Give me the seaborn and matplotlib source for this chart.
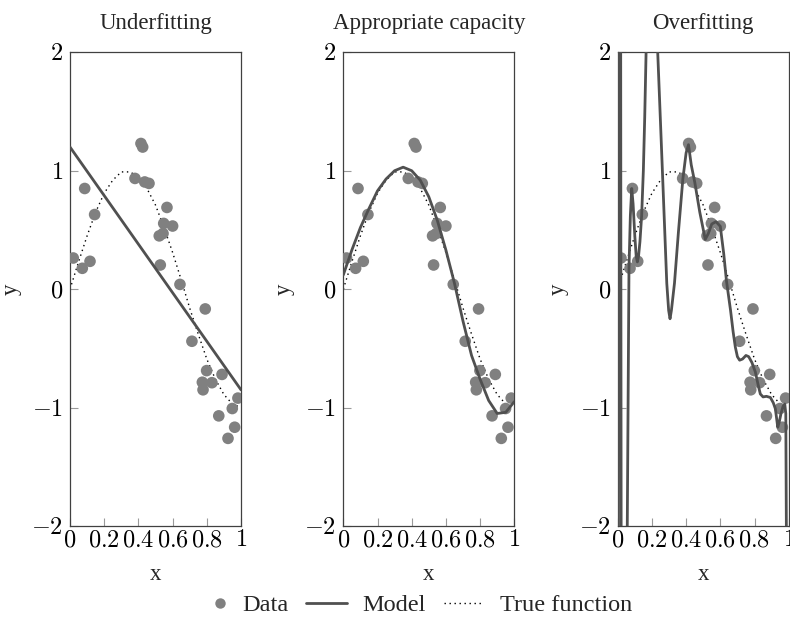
import numpy as np
import pandas as pd
import matplotlib
matplotlib.use("Agg")
import matplotlib.pyplot as plt
from matplotlib.lines import Line2D
from matplotlib.legend_handler import HandlerLine2D
import seaborn as sns

# ---------------- data ----------------
data_x = [0.019, 0.072, 0.086, 0.117, 0.144, 0.380, 0.415, 0.425, 0.437, 0.462,
          0.522, 0.528, 0.544, 0.548, 0.567, 0.600, 0.643, 0.713, 0.774, 0.778,
          0.791, 0.799, 0.830, 0.870, 0.889, 0.924, 0.949, 0.963, 0.982]
data_y = [0.263, 0.176, 0.850, 0.235, 0.630, 0.935, 1.230, 1.200, 0.905, 0.893,
          0.450, 0.204, 0.470, 0.555, 0.690, 0.533, 0.040, -0.440, -0.786, -0.850,
          -0.167, -0.688, -0.790, -1.070, -0.720, -1.260, -1.008, -1.166, -0.920]

true_x = [0.00, 0.05, 0.10, 0.15, 0.20, 0.25, 0.30, 0.35, 0.40, 0.45, 0.50,
          0.55, 0.60, 0.65, 0.70, 0.75, 0.80, 0.85, 0.90, 0.95, 1.00]
true_y = [0.00, 0.23, 0.45, 0.65, 0.81, 0.92, 0.99, 0.99, 0.95, 0.85, 0.71,
          0.52, 0.31, 0.08, -0.16, -0.38, -0.59, -0.76, -0.89, -0.97, -1.00]

under_x = [0.0, 1.0]
under_y = [1.20, -0.85]

good_x = [0.00, 0.05, 0.10, 0.15, 0.20, 0.25, 0.30, 0.35, 0.40, 0.45, 0.50,
          0.55, 0.60, 0.65, 0.70, 0.75, 0.80, 0.85, 0.90, 0.95, 1.00]
good_y = [0.12, 0.33, 0.52, 0.68, 0.83, 0.93, 1.00, 1.03, 1.00, 0.92, 0.78,
          0.58, 0.33, 0.05, -0.27, -0.56, -0.76, -0.94, -1.05, -1.04, -0.95]

over_x = [0.000, 0.004, 0.008, 0.012, 0.0185, 0.026, 0.040, 0.052, 0.056, 0.066,
          0.074, 0.082, 0.090, 0.100, 0.108, 0.115, 0.122, 0.130, 0.140, 0.150,
          0.158, 0.166, 0.180, 0.200, 0.218, 0.234, 0.260, 0.287, 0.298, 0.306,
          0.314, 0.332, 0.355, 0.381, 0.400, 0.414, 0.430, 0.451, 0.480, 0.512,
          0.530, 0.550, 0.575, 0.600, 0.620, 0.636, 0.660, 0.675, 0.688, 0.700,
          0.713, 0.730, 0.750, 0.766, 0.785, 0.805, 0.820, 0.834, 0.850, 0.870,
          0.893, 0.910, 0.922, 0.936, 0.945, 0.955, 0.967, 0.977, 0.983, 0.987,
          0.992, 1.000]
over_y = [-10.0, 0.0, 10.0, 12.0, 0.26, -10.0, -15.0, -6.0, -2.0, 0.18,
          0.62, 0.85, 0.72, 0.45, 0.28, 0.23, 0.28, 0.40, 0.62, 1.00,
          1.45, 2.00, 3.00, 3.40, 3.00, 2.00, 1.05, 0.05, -0.18, -0.25,
          -0.18, 0.05, 0.48, 0.93, 1.15, 1.22, 1.05, 0.90, 0.65, 0.42,
          0.47, 0.55, 0.57, 0.53, 0.30, 0.07, -0.18, -0.36, -0.49, -0.57,
          -0.60, -0.59, -0.56, -0.57, -0.62, -0.70, -0.80, -0.885, -0.91, -0.905,
          -0.915, -0.96, -1.01, -1.166, -1.12, -1.05, -0.99, -0.97, -1.05, -2.2,
          -5.0, -10.0]

titles = ["Underfitting", "Appropriate capacity", "Overfitting"]
xticks = [0, 0.2, 0.4, 0.6, 0.8, 1]
xtick_labels = ["$0$", "$0.2$", "$0.4$", "$0.6$", "$0.8$", "$1$"]
yticks = [-2, -1, 0, 1, 2]
ytick_labels = ["$-2$", "$-1$", "$0$", "$1$", "$2$"]
legend_labels = ["Data", "Model", "True function"]

# ---------------- style ----------------
sns.set_theme(style="white")
plt.rcParams["font.family"] = ["Liberation Serif", "DejaVu Serif"]
plt.rcParams["mathtext.fontset"] = "cm"

POINT_C = "#808080"
LINE_C = "#505050"
SPINE_C = "#404040"

fig = plt.figure(figsize=(7.9, 6.22), dpi=100)
lefts = [70 / 790, 343.3 / 790, 617.7 / 790]
bottom = (622 - 526) / 622
height = (526 - 52.3) / 622
width = 171 / 790

df_pts = pd.DataFrame({"x": data_x, "y": data_y})
df_true = pd.DataFrame({"x": true_x, "y": true_y})
models = [pd.DataFrame({"x": under_x, "y": under_y}),
          pd.DataFrame({"x": good_x, "y": good_y}),
          pd.DataFrame({"x": over_x, "y": over_y})]

for i in range(3):
    ax = fig.add_axes([lefts[i], bottom, width, height])
    sns.lineplot(data=df_true, x="x", y="y", ax=ax, color="black", lw=1.0,
                 linestyle=(0, (1, 2.6)), sort=False, zorder=2)
    sns.scatterplot(data=df_pts, x="x", y="y", ax=ax, color=POINT_C, s=70,
                    edgecolor="none", zorder=3)
    sns.lineplot(data=models[i], x="x", y="y", ax=ax, color=LINE_C, lw=2.0,
                 sort=False, zorder=4)
    ax.set_xlim(0, 1)
    ax.set_ylim(-2, 2)
    ax.set_xticks(xticks)
    ax.set_xticklabels(xtick_labels)
    ax.set_yticks(yticks)
    ax.set_yticklabels(ytick_labels)
    ax.tick_params(axis="both", direction="in", length=6, width=0.8,
                   color="#9a9a9a", labelsize=17.5, labelcolor="black")
    ax.tick_params(axis="x", pad=3)
    ax.tick_params(axis="y", pad=5)
    ax.tick_params(bottom=True, left=True, top=False, right=False)
    for sp in ax.spines.values():
        sp.set_color(SPINE_C)
        sp.set_linewidth(0.9)
    ax.set_xlabel("x", fontsize=16.5, labelpad=9)
    ax.set_ylabel("y", fontsize=16.5, labelpad=7)
    ax.set_title(titles[i], fontsize=16.5, pad=17)
    ax.grid(False)


class RightMarker(HandlerLine2D):
    """Place the single legend marker near the right end of the handle box."""
    def get_xdata(self, legend, xdescent, ydescent, width, height, fontsize):
        right = width - xdescent
        xd = np.array([right - 0.5 * fontsize, right])
        return xd, xd


h_data = Line2D([], [], marker="o", color=POINT_C, linestyle="none",
                markersize=7.5, markeredgecolor="none")
h_model = Line2D([], [], color=LINE_C, lw=2.0)
h_true = Line2D([], [], color="black", lw=1.0, linestyle=(0, (1, 2.6)))
fig.legend([h_data, h_model, h_true], legend_labels, loc="center",
           bbox_to_anchor=(0.518, 0.027), ncol=3, frameon=False, fontsize=17.5,
           handlelength=1.65, columnspacing=0.74, handletextpad=0.66,
           handler_map={h_data: RightMarker(numpoints=1)})

fig.savefig("out.png", dpi=100)
